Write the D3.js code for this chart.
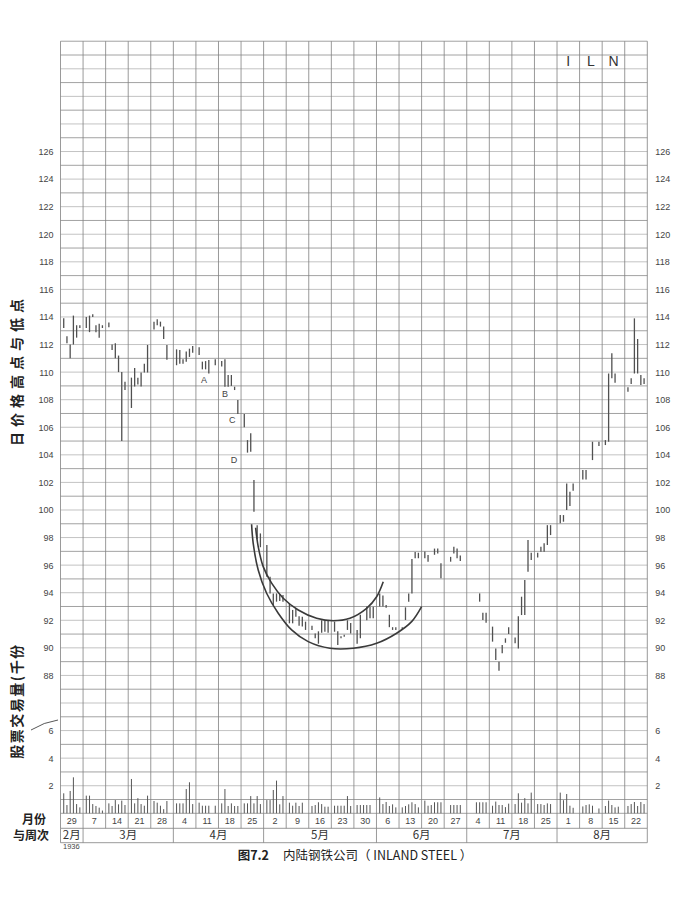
<!DOCTYPE html>
<html><head><meta charset="utf-8">
<script src="https://cdn.jsdelivr.net/npm/d3@7"></script>
<style>body{margin:0;background:#fff}svg{display:block}</style>
</head><body>
<svg id="c" width="681" height="901"></svg>
<script>
// ---------- data ----------
const weekLabels = ["29","7","14","21","28","4","11","18","25","2","9","16","23","30","6","13","20","27","4","11","18","25","1","8","15","22"];
const monthLabels = ["2月","3月","4月","5月","6月","7月","8月"];
const monthStartWeek = [0,1,5,9,14,18,22];
const priceTicks = [88,90,92,94,96,98,100,102,104,106,108,110,112,114,116,118,120,122,124,126];
const volumeTicks = [2,4,6];
// daily lows / highs, one row per week (Mon..Sat), null = no trading
const lows = [
 [113.2,112.1,111.0,112.0,112.5,113.2],
 [113.2,112.9,114.0,112.9,112.5,113.2],
 [113.25,111.6,111.0,110.0,105.0,108.7],
 [107.4,108.95,109.1,108.95,109.97,109.97],
 [113.1,113.4,113.3,112.4,110.9,null],
 [110.5,110.6,110.6,110.76,111.1,111.4],
 [111.24,110.2,110.2,109.9,null,110.5],
 [110.4,108.94,108.94,109.0,108.7,106.96],
 [106.0,104.16,104.23,99.88,97.87,97.3],
 [95.16,93.95,93.1,93.35,93.4,93.35],
 [91.78,91.78,92.26,91.6,91.54,91.3],
 [91.3,90.7,90.3,91.1,91.17,91.1],
 [91.17,90.2,90.7,90.8,91.3,91.05],
 [90.3,90.7,null,92.0,92.14,92.14],
 [93.0,93.0,92.9,91.5,91.3,91.3],
 [91.3,92.02,93.35,93.95,96.5,96.5],
 [96.5,96.25,null,96.75,96.85,95.04],
 [null,96.25,96.85,96.5,96.3,null],
 [null,null,null,93.35,92.02,91.83],
 [90.45,89.12,88.34,89.6,90.37,91.0],
 [90.33,89.96,92.38,92.38,95.52,96.37],
 [96.56,96.97,96.97,97.46,98.18,null],
 [99.03,99.15,100.0,100.29,101.4,null],
 [102.22,102.22,null,103.62,null,104.64],
 [104.71,104.95,109.55,109.23,null,null],
 [108.58,109.14,109.9,109.9,109.06,109.14]
];
const highs = [
 [113.9,112.6,112.0,114.1,113.4,113.4],
 [114.0,114.1,114.2,113.4,113.5,113.4],
 [113.6,112.0,112.1,111.2,110.0,109.3],
 [109.6,110.3,109.6,109.97,110.6,111.97],
 [113.66,113.83,113.66,113.3,111.97,null],
 [111.65,111.6,110.93,111.5,111.7,111.9],
 [111.8,110.76,110.8,110.88,null,110.93],
 [110.8,110.93,109.79,109.79,108.94,107.98],
 [106.96,105.07,105.56,102.17,98.9,98.3],
 [97.46,95.16,93.95,93.95,93.9,93.83],
 [93.23,92.75,92.87,92.3,92.26,91.9],
 [91.6,91.05,91.2,92.0,92.0,92.0],
 [91.9,91.2,90.85,90.95,92.0,91.8],
 [91.3,92.4,null,93.0,92.99,92.99],
 [93.95,93.8,93.1,92.4,91.5,91.5],
 [91.5,92.94,93.95,96.45,96.95,96.9],
 [96.98,96.73,null,97.2,97.2,96.13],
 [null,96.6,97.34,97.2,96.7,null],
 [null,null,null,93.95,92.55,92.55],
 [91.54,89.96,89.0,90.2,90.69,91.49],
 [90.76,92.3,93.71,94.92,97.82,96.9],
 [96.9,97.34,97.58,98.9,98.9,null],
 [99.63,99.63,101.93,101.33,101.93,null],
 [102.9,102.9,null,104.95,null,104.95],
 [105.07,109.9,111.36,109.9,null,null],
 [108.9,109.55,113.9,112.4,109.79,109.55]
];
// daily volume, thousands of shares
const volumes = [
 [1.45,0.6,1.62,2.61,0.67,0.43],
 [1.28,1.28,0.67,0.53,0.41,0.2],
 [0.72,0.53,0.96,0.65,0.92,0.6],
 [2.49,0.72,1.1,0.67,0.55,1.28],
 [0.89,0.77,0.55,0.3,0.89,null],
 [0.72,0.72,0.72,1.76,2.25,0.67],
 [0.77,0.55,0.55,0.55,null,0.55],
 [0.72,1.76,0.53,0.72,0.53,0.53],
 [0.72,0.72,1.25,0.72,1.25,0.67],
 [0.96,0.96,1.69,2.37,0.65,1.25],
 [0.77,0.55,0.77,0.53,0.77,null],
 [0.53,0.6,0.8,0.67,0.48,0.48],
 [0.55,0.55,0.55,0.55,1.25,0.53],
 [0.6,0.6,0.6,0.6,0.6,null],
 [1.15,0.67,0.82,0.53,0.65,0.43],
 [0.43,0.53,0.65,0.8,0.67,0.43],
 [0.92,0.55,0.6,0.8,0.8,0.8],
 [null,0.6,0.6,0.6,0.6,null],
 [null,null,0.8,0.8,0.8,0.8],
 [0.55,0.85,0.6,0.6,0.45,0.7],
 [0.67,1.45,0.77,1.1,0.72,1.5],
 [0.67,0.67,0.6,0.72,0.67,null],
 [1.5,0.95,1.4,0.55,0.4,null],
 [0.5,0.6,0.65,0.55,null,0.35],
 [0.53,0.92,0.6,0.43,0.48,null],
 [0.53,0.67,0.82,0.53,0.82,0.67]
];
// hand-drawn bowl curves: [day slot, price]
const outerArcSlot  = [59.27,59.77,61.32,63.93,67.53,71.68,76.83,83.56,90.79,98.05,104.25,108.9,112.0];
const outerArcPrice = [98.96,97.58,95.65,93.96,92.51,91.3,90.45,89.97,89.97,90.33,91.06,91.9,92.99];
const innerArcSlot  = [60.52,61.32,62.87,65.48,69.08,73.73,79.44,84.58,89.76,94.94,98.05,100.1];
const innerArcPrice = [98.71,97.34,95.89,94.69,93.6,92.75,92.15,91.97,92.15,92.87,93.71,94.8];
const noteLabels = ["A","B","C","D"];
const noteSlot   = [44.5,51.0,53.3,53.8];
const notePrice  = [109.4,108.4,106.45,103.6];
const tickerLetters = ["I","L","N"];
const tickerWeek = [22,23,24];

// ---------- layout ----------
const X0 = 60.5, X1 = 647.3, YB = 813.3, UNIT = 13.787, ROWS = 56;
const YT = YB - ROWS*UNIT;
const nWeeks = weekLabels.length, SPW = 7;
const x = d3.scaleLinear().domain([0, nWeeks*SPW]).range([X0, X1]);
const yP = d3.scaleLinear().domain([78, 78+ROWS]).range([YB, YT]);
const yV = d3.scaleLinear().domain([0, ROWS]).range([YB, YT]);
const slotOf = (w,d) => w*SPW + d + 1;

const svg = d3.select("#c");
svg.append("rect").attr("width",681).attr("height",901).attr("fill","#fff");
const FONT = "'Liberation Sans', Arial, sans-serif";
const CJK = "'Noto Sans CJK SC', sans-serif";

// grid
const g = svg.append("g");
g.selectAll("line.h").data(d3.range(0, ROWS+1)).join("line")
  .attr("x1",X0).attr("x2",X1).attr("y1",d=>yV(d)).attr("y2",d=>yV(d))
  .attr("stroke", d => (d%2===1 || d===0 || d===ROWS) ? "#8a8a8a" : "#b4b4b4").attr("stroke-width",0.8);
g.selectAll("line.v").data(d3.range(0, nWeeks+1)).join("line")
  .attr("x1",d=>x(d*SPW)).attr("x2",d=>x(d*SPW)).attr("y1",YT).attr("y2",YB+15)
  .attr("stroke","#808080").attr("stroke-width",0.8);
// bottom rows
[YB+15, YB+29.4].forEach(yy => g.append("line").attr("x1",X0).attr("x2",X1).attr("y1",yy).attr("y2",yy).attr("stroke","#808080").attr("stroke-width",0.8));
const mBounds = monthStartWeek.concat([nWeeks]);
mBounds.forEach(w => g.append("line").attr("x1",x(w*SPW)).attr("x2",x(w*SPW)).attr("y1",YB+15).attr("y2",YB+29.4).attr("stroke","#808080").attr("stroke-width",0.8));

// axes labels (price & volume), both sides
function sideAxis(axisFn, scale, ticks, xpos) {
  const a = svg.append("g").attr("transform",`translate(${xpos},0)`)
    .call(axisFn(scale).tickValues(ticks).tickSize(0).tickPadding(0));
  a.select(".domain").remove();
  a.selectAll("text").attr("font-family",FONT).attr("font-size",9).attr("fill","#444");
}
sideAxis(d3.axisLeft, yP, priceTicks, X0-7);
sideAxis(d3.axisRight, yP, priceTicks, X1+8);
sideAxis(d3.axisLeft, yV, volumeTicks, X0-7);
sideAxis(d3.axisRight, yV, volumeTicks, X1+8);

// price bars
const bars = [];
lows.forEach((wk,w) => wk.forEach((lo,d) => { if (lo!=null) bars.push({s:slotOf(w,d), lo, hi:highs[w][d]}); }));
svg.append("g").selectAll("line").data(bars).join("line")
  .attr("x1",d=>x(d.s)).attr("x2",d=>x(d.s))
  .attr("y1",d=>yP(d.hi)).attr("y2",d=>Math.max(yP(d.lo), yP(d.hi)+2))
  .attr("stroke","#505050").attr("stroke-width",1.3);

// volume bars
const vb = [];
volumes.forEach((wk,w) => wk.forEach((v,d) => { if (v!=null) vb.push({s:slotOf(w,d), v}); }));
svg.append("g").selectAll("line").data(vb).join("line")
  .attr("x1",d=>x(d.s)).attr("x2",d=>x(d.s)).attr("y1",yV(0)).attr("y2",d=>yV(d.v))
  .attr("stroke","#555").attr("stroke-width",1);

// bowl curves
const arcLine = d3.line().x(d=>x(d[0])).y(d=>yP(d[1])).curve(d3.curveCatmullRom);
svg.append("path").attr("d", arcLine(outerArcSlot.map((s,i)=>[s,outerArcPrice[i]])))
  .attr("fill","none").attr("stroke","#3a3a3a").attr("stroke-width",1.6);
svg.append("path").attr("d", arcLine(innerArcSlot.map((s,i)=>[s,innerArcPrice[i]])))
  .attr("fill","none").attr("stroke","#3a3a3a").attr("stroke-width",1.6);

// notes A B C D
svg.append("g").selectAll("text").data(noteLabels).join("text")
  .attr("x",(d,i)=>x(noteSlot[i])).attr("y",(d,i)=>yP(notePrice[i]))
  .attr("text-anchor","middle").attr("dominant-baseline","middle")
  .attr("font-family",FONT).attr("font-size",9).attr("fill","#444").text(d=>d);

// ticker
svg.append("g").selectAll("text").data(tickerLetters).join("text")
  .attr("x",(d,i)=>x(tickerWeek[i]*SPW+3.5)).attr("y",yP(78+ROWS-1.5))
  .attr("text-anchor","middle").attr("dominant-baseline","middle")
  .attr("font-family",FONT).attr("font-size",14).attr("fill","#333").text(d=>d);

// week labels
svg.append("g").selectAll("text").data(weekLabels).join("text")
  .attr("x",(d,i)=>x(i*SPW+3.5)).attr("y",YB+8)
  .attr("text-anchor","middle").attr("dominant-baseline","middle")
  .attr("font-family",FONT).attr("font-size",9).attr("fill","#444").text(d=>d);
// month labels
svg.append("g").selectAll("text").data(monthLabels).join("text")
  .attr("x",(d,i)=>(x(mBounds[i]*SPW)+x(mBounds[i+1]*SPW))/2).attr("y",YB+22.5)
  .attr("text-anchor","middle").attr("dominant-baseline","middle")
  .attr("font-family",CJK).attr("font-size",11.5).attr("fill","#333").text(d=>d);

svg.append("text").attr("x",63).attr("y",849).attr("font-family",FONT).attr("font-size",7.5).attr("fill","#444").text("1936");
svg.append("text").attr("x",34).attr("y",821).attr("text-anchor","middle").attr("dominant-baseline","middle")
  .attr("font-family",CJK).attr("font-weight","bold").attr("font-size",12).attr("fill","#222").text("月份");
svg.append("text").attr("x",31).attr("y",836.5).attr("text-anchor","middle").attr("dominant-baseline","middle")
  .attr("font-family",CJK).attr("font-weight","bold").attr("font-size",12).attr("fill","#222").text("与周次");

// rotated axis titles
svg.append("text").attr("transform","translate(18,370) rotate(-90)").attr("text-anchor","middle").attr("dominant-baseline","middle")
  .attr("font-family",CJK).attr("font-weight","bold").attr("font-size",14).attr("letter-spacing",5).attr("fill","#222").text("日价格高点与低点");
svg.append("text").attr("transform","translate(18,701) rotate(-90)").attr("text-anchor","middle").attr("dominant-baseline","middle")
  .attr("font-family",CJK).attr("font-weight","bold").attr("font-size",14).attr("letter-spacing",1.5).attr("fill","#222").text("股票交易量(千份");
svg.append("path").attr("d","M31,730 Q44,722 58,720").attr("fill","none").attr("stroke","#444").attr("stroke-width",0.9);

// caption
const cap = svg.append("text").attr("x",355).attr("y",860).attr("text-anchor","middle")
  .attr("font-family",CJK).attr("font-size",12.5).attr("fill","#222");
cap.append("tspan").attr("font-weight","bold").text("图7.2");
cap.append("tspan").attr("dx",14).text("内陆钢铁公司（ INLAND STEEL ）");
</script>
</body></html>
